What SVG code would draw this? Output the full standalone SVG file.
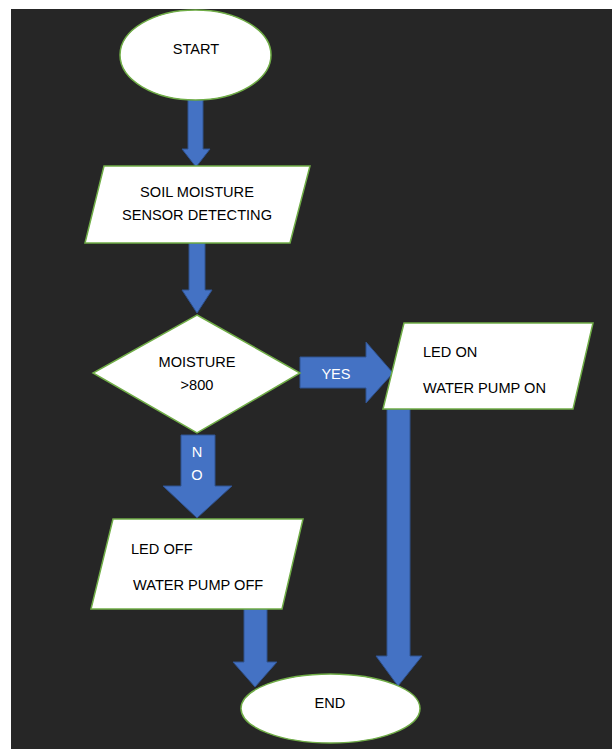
<svg xmlns="http://www.w3.org/2000/svg" width="612" height="749" viewBox="0 0 612 749">
<defs>
<style>
.shape{fill:#ffffff;stroke:#70ad47;stroke-width:1.5}
.arrow{fill:#4472c4;stroke:#2f528f;stroke-width:1}
.t{font-family:"Liberation Sans",Arial,sans-serif;font-size:14.6px;fill:#000000}
.c{text-anchor:middle}
.w{fill:#ffffff}
</style>
</defs>
<rect x="0" y="0" width="612" height="749" fill="#ffffff"/>
<rect x="11" y="9" width="601" height="740" fill="#262626"/>
<g id="connectors">
<polygon class="arrow" points="188,100 203,100 203,149 210,149 196,167 182,149 188,149"/>
<polygon class="arrow" points="189,243 205,243 205,290 212,290 197,313 182,290 189,290"/>
<polygon class="arrow" points="300,357 366,357 366,342 393,373 366,403 366,388 300,388"/>
<text class="t w c" x="336" y="379">YES</text>
<polygon class="arrow" points="181,435 215,435 215,486 232,486 197,518 163,486 181,486"/>
<text class="t w c" x="197" y="457">N</text>
<text class="t w c" x="197" y="480">O</text>
<polygon class="arrow" points="387,409 410,409 410,656 422,656 398,686 376,656 387,656"/>
<polygon class="arrow" points="244,609 267,609 267,662 277,662 255,687 233,662 244,662"/>
</g>
<g id="start">
<ellipse class="shape" cx="195.5" cy="55" rx="75.5" ry="45"/>
<text class="t c" x="196" y="54">START</text>
</g>
<g id="sensor">
<polygon class="shape" points="104,166 310,166 290,243 85,243"/>
<text class="t c" x="197" y="197">SOIL MOISTURE</text>
<text class="t c" x="197" y="220">SENSOR DETECTING</text>
</g>
<g id="decision">
<polygon class="shape" points="197,315 300,373 197,433 93,373"/>
<text class="t c" x="197" y="367">MOISTURE</text>
<text class="t c" x="197" y="390">&gt;800</text>
</g>
<g id="led-on">
<polygon class="shape" points="404,323 593,323 573,409 383,409"/>
<text class="t" x="423" y="357">LED ON</text>
<text class="t" x="423" y="393">WATER PUMP ON</text>
</g>
<g id="led-off">
<polygon class="shape" points="113,519 303,519 282,609 91,609"/>
<text class="t" x="131" y="554">LED OFF</text>
<text class="t" x="133" y="590">WATER PUMP OFF</text>
</g>
<g id="end">
<ellipse class="shape" cx="330.5" cy="708.5" rx="89.5" ry="34.5"/>
<text class="t c" x="330" y="708">END</text>
</g>
</svg>
